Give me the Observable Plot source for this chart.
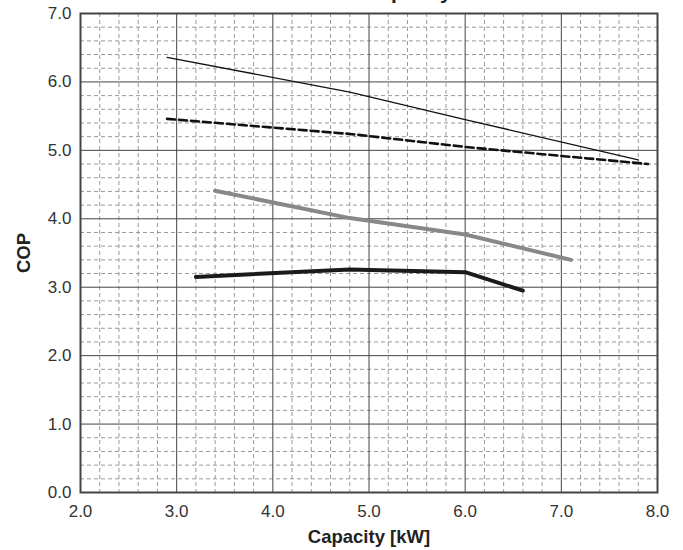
<!DOCTYPE html>
<html>
<head>
<meta charset="utf-8">
<script src="https://cdn.jsdelivr.net/npm/d3@7"></script>
<script src="https://cdn.jsdelivr.net/npm/@observablehq/plot@0.6"></script>
<style>
  html, body { margin: 0; padding: 0; background: #fff; }
</style>
</head>
<body>
<div id="chart"></div>
<script>
// Data
const thinCap = [2.9, 4.8, 6.0, 7.8];
const thinCop = [6.36, 5.85, 5.45, 4.86];

const dashCap = [2.9, 4.8, 6.0, 7.9];
const dashCop = [5.46, 5.24, 5.05, 4.80];

const grayCap = [3.4, 4.8, 6.0, 7.1];
const grayCop = [4.41, 4.01, 3.77, 3.40];

const blackCap = [3.2, 4.8, 6.0, 6.6];
const blackCop = [3.15, 3.26, 3.22, 2.95];

const xTicks = [2, 3, 4, 5, 6, 7, 8];
const yTicks = [0, 1, 2, 3, 4, 5, 6, 7];
const xMinor = d3.range(2, 8.0001, 0.2).filter(v => Math.abs(v - Math.round(v)) > 1e-6);
const yMinor = d3.range(0, 7.0001, 0.2).filter(v => Math.abs(v - Math.round(v)) > 1e-6);

const toRows = (xs, ys) => xs.map((x, i) => ({x, y: ys[i]}));

const chart = Plot.plot({
  width: 683,
  height: 550,
  marginLeft: 80,
  marginRight: 26,
  marginTop: 13,
  marginBottom: 58,
  style: {fontFamily: "Liberation Sans, Arial, sans-serif", fontSize: "17px", color: "#333", background: "#fff", overflow: "hidden"},
  x: {domain: [2, 8], ticks: xTicks, tickFormat: d3.format(".1f"), tickSize: 0, tickPadding: 12, label: "Capacity [kW]", labelAnchor: "center", labelOffset: 50},
  y: {domain: [0, 7], ticks: yTicks, tickFormat: d3.format(".1f"), tickSize: 0, tickPadding: 9, label: "COP", labelAnchor: "center", labelOffset: 64},
  marks: [
    Plot.ruleX(xMinor, {stroke: "#999", strokeWidth: 1, strokeDasharray: "4,3"}),
    Plot.ruleY(yMinor, {stroke: "#999", strokeWidth: 1, strokeDasharray: "4,3"}),
    Plot.ruleX(xTicks, {stroke: "#444", strokeWidth: 1}),
    Plot.ruleY(yTicks, {stroke: "#444", strokeWidth: 1}),
    Plot.frame({stroke: "#444", strokeWidth: 2}),
    Plot.line(toRows(thinCap, thinCop), {x: "x", y: "y", stroke: "#111", strokeWidth: 1.3}),
    Plot.line(toRows(dashCap, dashCop), {x: "x", y: "y", stroke: "#111", strokeWidth: 2.6, strokeDasharray: "8,4"}),
    Plot.line(toRows(grayCap, grayCop), {x: "x", y: "y", stroke: "#888", strokeWidth: 4}),
    Plot.line(toRows(blackCap, blackCop), {x: "x", y: "y", stroke: "#1a1a1a", strokeWidth: 4}),
    Plot.text(["COP vs. Capacity"], {frameAnchor: "top", lineAnchor: "bottom", dy: -14.5, dx: -4, fontSize: 21, fontWeight: "bold", fill: "#222"})
  ]
});

// Bold axis labels without arrows
d3.select(chart).selectAll("[aria-label='x-axis label'] text, [aria-label='y-axis label'] text")
  .text(function() { return this.textContent.replace(/\s*[→↑←↓]\s*/g, ""); })
  .style("font-weight", "bold").style("font-size", "18.5px").style("fill", "#222");

document.getElementById("chart").appendChild(chart);
</script>
</body>
</html>
